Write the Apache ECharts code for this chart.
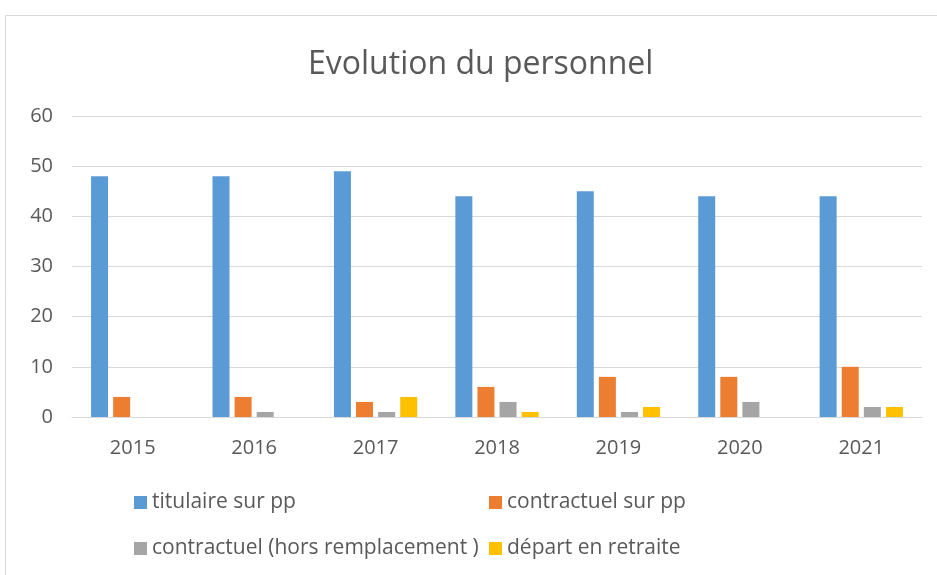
<!DOCTYPE html>
<html><head><meta charset="utf-8">
<script src="https://cdn.jsdelivr.net/npm/echarts@6/dist/echarts.min.js"></script>
<style>html,body{margin:0;padding:0;background:#fff}#c{width:937px;height:575px}</style>
</head><body><div id="c"></div>
<script>
const categories = ['2015','2016','2017','2018','2019','2020','2021'];
const seriesNames = ['titulaire sur pp','contractuel sur pp','contractuel (hors remplacement )','départ en retraite'];
const titulaire = [48,48,49,44,45,44,44];
const contractuelPP = [4,4,3,6,8,8,10];
const contractuelHors = [0,1,1,3,1,3,2];
const depart = [0,0,4,1,2,0,2];
const yTicks = [0,10,20,30,40,50,60];

const colors = ['#5b9bd5','#ed7d31','#a5a5a5','#ffc000'];
const values = [titulaire, contractuelPP, contractuelHors, depart];
const font = '"Open Sans", "Liberation Sans", sans-serif';
const chart = echarts.init(document.getElementById('c'));
const legendPos = [[134,492],[489,492],[134,538],[489,538]];
chart.setOption({
  animation:false,
  title:{text:'Evolution du personnel',left:303,top:44,textStyle:{fontFamily:font,fontSize:32,fontWeight:'normal',color:'#595959'}},
  graphic:[{type:'rect',shape:{x:5.5,y:15.5,width:940,height:570},style:{fill:null,stroke:'#d9d9d9',lineWidth:1}}],
  legend: seriesNames.map((n,i)=>({data:[n],left:legendPos[i][0],top:legendPos[i][1],padding:0,icon:'rect',itemWidth:13,itemHeight:13,textStyle:{fontFamily:font,fontSize:21,color:'#595959'}})),
  grid:{left:72,right:15,top:116,bottom:158,containLabel:false},
  xAxis:{type:'category',data:categories,axisTick:{show:false},axisLine:{lineStyle:{color:'#d9d9d9'}},axisLabel:{fontFamily:font,fontSize:20,color:'#595959',margin:21}},
  yAxis:{type:'value',min:yTicks[0],max:yTicks[yTicks.length-1],interval:10,axisLabel:{fontFamily:font,fontSize:20,color:'#595959',margin:19},splitLine:{lineStyle:{color:'#d9d9d9'}},axisLine:{show:false},axisTick:{show:false}},
  series: seriesNames.map((n,i)=>({name:n,type:'bar',data:values[i],barWidth:17,barGap:'30%',itemStyle:{color:colors[i]}}))
});
</script></body></html>
